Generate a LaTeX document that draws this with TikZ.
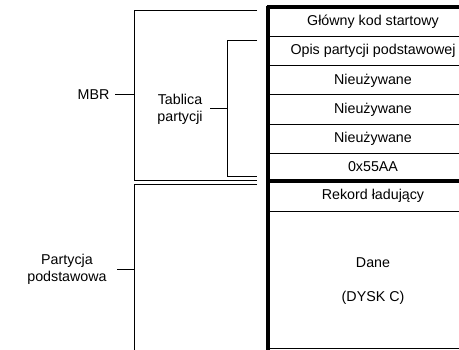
\documentclass[tikz,border=0pt]{standalone}
\usepackage{fontspec}
\setmainfont{Liberation Sans}
\begin{document}
\begin{tikzpicture}[x=0.75pt,y=-0.75pt,
  thin line/.style={line width=0.75pt},
  thick line/.style={line width=3pt},
  celltext/.style={inner sep=0pt, font=\fontsize{10.7}{12}\selectfont, anchor=center},
  lbl/.style={inner sep=1pt, font=\fontsize{10.7}{13}\selectfont, align=center}]
\useasboundingbox (0,0) rectangle (459,349);
\clip (0,0) rectangle (459,349);
% table
\coordinate (TL) at (268,7.5);
\coordinate (BL) at (268,352);
\foreach \y in {36.7,65.7,95,124,153.3,211} \draw[thin line] (268,\y) -- (480,\y);
\draw[thin line] (268,348.5) -- (480,348.5);
\draw[thick line] (266.5,7.5) -- (480,7.5);
\draw[thick line] (266.5,180.5) -- (480,180.5);
\draw[thick line] (TL) ++(0,-1.5) -- (BL);
\node[celltext] (r1) at (373,22) {Główny kod startowy};
\node[celltext] (r2) at (373,51.2) {Opis partycji podstawowej};
\node[celltext] (r3) at (373,80.4) {Nieużywane};
\node[celltext] (r4) at (373,109.6) {Nieużywane};
\node[celltext] (r5) at (373,138.8) {Nieużywane};
\node[celltext] (r6) at (373,167) {0x55AA};
\node[celltext] (r7) at (373,196) {Rekord ładujący};
\node[celltext] (r8) at (373,263) {Dane};
\node[celltext] (r9) at (373,298) {(DYSK C)};
% brackets
\coordinate (m1) at (257,10.7);
\coordinate (m2) at (134,10.7);
\coordinate (m3) at (134,180);
\coordinate (m4) at (257,180);
\draw[thin line] (m1) -- (m2) -- (m3) -- (m4);
\coordinate (t1) at (257,40.7);
\coordinate (t2) at (227.3,40.7);
\coordinate (t3) at (227.3,176.7);
\coordinate (t4) at (257,176.7);
\draw[thin line] (t1) -- (t2) -- (t3) -- (t4);
\coordinate (p1) at (257,184.5);
\coordinate (p2) at (134,184.5);
\coordinate (p3) at (134,352);
\draw[thin line] (p1) -- (p2) -- (p3);
% labels
\node[lbl, anchor=east] (mbr) at (111,94.3) {MBR};
\coordinate (mbrT) at (134,94.3);
\draw[thin line] (115,94.3) coordinate (mbrS) (mbrS) -- (mbrT);
\node[lbl] (tab) at (180,109) {Tablica\\partycji};
\coordinate (tabT) at (227.3,109);
\draw[thin line] (210,109) coordinate (tabS) (tabS) -- (tabT);
\node[lbl] (part) at (67,269) {Partycja\\podstawowa};
\coordinate (partT) at (134,269);
\draw[thin line] (117,269) coordinate (partS) (partS) -- (partT);
\end{tikzpicture}
\end{document}
